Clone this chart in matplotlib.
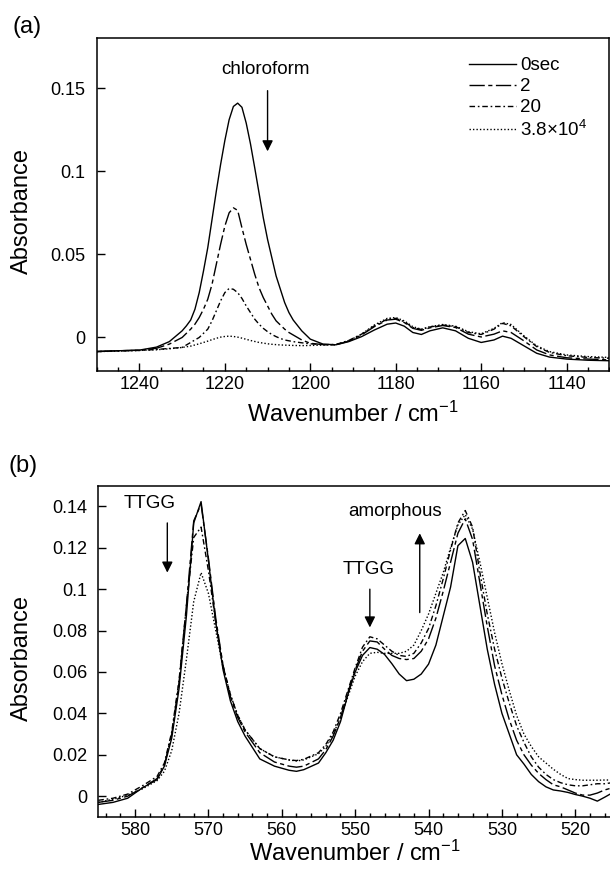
import numpy as np
import matplotlib
matplotlib.use('Agg')
import matplotlib.pyplot as plt

plt.rcParams['font.family'] = ['Liberation Sans', 'DejaVu Sans']
plt.rcParams['mathtext.fontset'] = 'custom'
plt.rcParams['mathtext.rm'] = 'Liberation Sans'
plt.rcParams['mathtext.it'] = 'Liberation Sans:italic'

# (a) chloroform band region
wn_a = [1250, 1245, 1240, 1236, 1233, 1230, 1229, 1228, 1227, 1226, 1225, 1224, 1223,
        1222, 1221, 1220, 1219, 1218, 1217, 1216, 1215, 1214, 1213, 1212, 1211, 1210,
        1209, 1208, 1207, 1206, 1205, 1204, 1202, 1200, 1197, 1194, 1191, 1188,
        1185, 1182, 1180, 1178, 1176, 1174, 1172, 1169, 1166, 1163, 1160, 1157, 1155,
        1153, 1150, 1147, 1144, 1140, 1135, 1130]
a_0s = [-0.0084, -0.008, -0.0076, -0.0058, -0.0025, 0.004, 0.007, 0.0105, 0.017, 0.027,
        0.040, 0.054, 0.071, 0.088, 0.104, 0.1185, 0.131, 0.139, 0.141, 0.1385, 0.129,
        0.1165, 0.102, 0.087, 0.072, 0.059, 0.048, 0.037, 0.029, 0.021, 0.015, 0.0105,
        0.004, -0.001, -0.004, -0.0044, -0.0025, 0.0005, 0.0045, 0.008, 0.0087, 0.0068,
        0.003, 0.0018, 0.004, 0.0058, 0.004, -0.0005, -0.003, -0.0015, 0.0008, -0.0005,
        -0.005, -0.0095, -0.0118, -0.013, -0.0137, -0.014]
a_2s = [-0.0085, -0.008, -0.0077, -0.0065, -0.004, 0.0, 0.0025, 0.005, 0.008, 0.012,
        0.017, 0.023, 0.032, 0.044, 0.056, 0.067, 0.075, 0.078, 0.0765, 0.066, 0.056,
        0.047, 0.038, 0.030, 0.024, 0.019, 0.014, 0.010, 0.0075, 0.005, 0.003, 0.0015,
        -0.0015, -0.0035, -0.0043, -0.0044, -0.0022, 0.0015, 0.0065, 0.0105, 0.011,
        0.009, 0.0055, 0.0043, 0.0058, 0.0072, 0.006, 0.002, 0.0003, 0.002, 0.004, 0.003,
        -0.002, -0.0075, -0.0105, -0.0122, -0.013, -0.0135]
a_20s = [-0.0085, -0.008, -0.0078, -0.0072, -0.0066, -0.006, -0.0045, -0.003, -0.0015,
         0.0, 0.0025, 0.005, 0.010, 0.016, 0.022, 0.027, 0.0295, 0.029, 0.027, 0.0235,
         0.019, 0.015, 0.011, 0.008, 0.0055, 0.0035, 0.0018, 0.0005, -0.0006, -0.0015,
         -0.002, -0.0025, -0.0032, -0.0038, -0.0043, -0.0042, -0.0018, 0.002, 0.007,
         0.011, 0.0115, 0.0095, 0.006, 0.0048, 0.0063, 0.0075, 0.0065, 0.003, 0.0018,
         0.005, 0.0085, 0.007, 0.0005, -0.0055, -0.009, -0.011, -0.012, -0.0125]
a_38k = [-0.0085, -0.0082, -0.0078, -0.0074, -0.0068, -0.006, -0.0056, -0.0052, -0.0045,
         -0.0038, -0.003, -0.0022, -0.0013, -0.0005, 0.0002, 0.0006, 0.0008, 0.0006,
         0.0002, -0.0004, -0.0011, -0.0018, -0.0024, -0.003, -0.0034, -0.0038, -0.0041,
         -0.0043, -0.0045, -0.0046, -0.0047, -0.0048, -0.0049, -0.0048, -0.0046, -0.0043,
         -0.002, 0.002, 0.0075, 0.0115, 0.012, 0.01, 0.0065, 0.005, 0.0065, 0.0078,
         0.0068, 0.0035, 0.0022, 0.0055, 0.009, 0.0078, 0.001, -0.005, -0.0085, -0.0105,
         -0.0115, -0.012]

# (b) low wavenumber region
wn_b = [585, 583, 581, 579, 577, 576, 575, 574, 573, 572, 571, 570, 569, 568, 567, 566,
        565, 563, 561, 559, 558, 557, 555, 554, 553, 552, 551, 550, 549, 548, 547, 546,
        545, 544, 543, 542, 541, 540, 539, 538, 537, 536, 535, 534, 533, 532, 531, 530,
        529, 528, 527, 526, 525, 524, 523, 522, 521, 520, 519, 518, 517, 516, 515]
b_0s = [-0.004, -0.003, -0.001, 0.004, 0.008, 0.0145, 0.028, 0.052, 0.087, 0.132, 0.1423,
        0.114, 0.084, 0.061, 0.046, 0.036, 0.029, 0.018, 0.0145, 0.0125, 0.012, 0.0128,
        0.016, 0.021, 0.027, 0.036, 0.049, 0.060, 0.068, 0.0718, 0.071, 0.0685, 0.064,
        0.059, 0.0558, 0.0565, 0.059, 0.0638, 0.073, 0.087, 0.101, 0.121, 0.1245, 0.113,
        0.092, 0.071, 0.054, 0.040, 0.030, 0.020, 0.0155, 0.0105, 0.007, 0.0045, 0.003,
        0.0025, 0.0018, 0.0008, 0.0, -0.001, -0.0024, -0.0005, 0.0015]
b_2s = [-0.003, -0.002, 0.0, 0.004, 0.0085, 0.015, 0.030, 0.055, 0.092, 0.133, 0.141,
        0.115, 0.086, 0.063, 0.048, 0.038, 0.031, 0.021, 0.0165, 0.0145, 0.014, 0.0145,
        0.018, 0.0225, 0.029, 0.038, 0.050, 0.061, 0.070, 0.075, 0.0745, 0.071, 0.068,
        0.0665, 0.066, 0.0665, 0.070, 0.076, 0.086, 0.099, 0.113, 0.127, 0.134, 0.124,
        0.103, 0.082, 0.063, 0.049, 0.037, 0.027, 0.020, 0.015, 0.011, 0.008, 0.0055,
        0.0045, 0.003, 0.0015, 0.0005, 0.0005, 0.0015, 0.003, 0.004]
b_20s = [-0.002, -0.001, 0.001, 0.005, 0.0095, 0.016, 0.031, 0.056, 0.092, 0.125, 0.130,
         0.109, 0.084, 0.063, 0.049, 0.039, 0.032, 0.023, 0.019, 0.0175, 0.0172, 0.0178,
         0.021, 0.025, 0.031, 0.040, 0.051, 0.062, 0.072, 0.077, 0.076, 0.073, 0.070,
         0.068, 0.0675, 0.069, 0.074, 0.081, 0.092, 0.105, 0.119, 0.132, 0.138, 0.130,
         0.108, 0.088, 0.071, 0.057, 0.045, 0.034, 0.026, 0.019, 0.014, 0.0105, 0.008,
         0.0065, 0.0055, 0.005, 0.005, 0.0055, 0.006, 0.006, 0.0065]
b_38k = [-0.003, -0.0015, 0.0005, 0.0035, 0.0075, 0.012, 0.022, 0.040, 0.066, 0.094, 0.108,
         0.098, 0.080, 0.062, 0.049, 0.039, 0.032, 0.023, 0.019, 0.0175, 0.017, 0.0175,
         0.0205, 0.024, 0.030, 0.038, 0.048, 0.058, 0.065, 0.069, 0.0695, 0.069, 0.069,
         0.069, 0.070, 0.073, 0.080, 0.088, 0.098, 0.108, 0.120, 0.131, 0.136, 0.129,
         0.113, 0.096, 0.079, 0.064, 0.051, 0.039, 0.030, 0.024, 0.019, 0.016, 0.013,
         0.0105, 0.0085, 0.008, 0.0077, 0.0077, 0.0077, 0.0078, 0.0078]

labels = ['0sec', '2', '20', r'3.8$\times$10$^4$']
styles = ['-', (0, (11, 2.5, 3, 2.5)), (0, (4, 2, 1.2, 2)), (0, (1, 1.5))]

fig = plt.figure(figsize=(6.10, 8.69), dpi=100)
ax1 = fig.add_axes([0.1585, 0.5734, 0.8404, 0.3825])
ax2 = fig.add_axes([0.1612, 0.0600, 0.8421, 0.3811])

for s, lab, ls in zip([a_0s, a_2s, a_20s, a_38k], labels, styles):
    ax1.plot(wn_a, s, color='k', lw=1.0, ls=ls, label=lab)
for s, lab, ls in zip([b_0s, b_2s, b_20s, b_38k], labels, styles):
    ax2.plot(wn_b, s, color='k', lw=1.0, ls=ls, label=lab)

ax1.set_xlim(1250, 1130)
ax1.set_ylim(-0.02, 0.18)
ax1.set_xticks([1240, 1220, 1200, 1180, 1160, 1140])
ax1.set_xticks(np.arange(1130, 1251, 5), minor=True)
ax1.set_yticks([0, 0.05, 0.1, 0.15])
ax1.set_yticklabels(['0', '0.05', '0.1', '0.15'])

ax2.set_xlim(585, 515)
ax2.set_ylim(-0.01, 0.15)
ax2.set_xticks([580, 570, 560, 550, 540, 530, 520])
ax2.set_xticks(np.arange(516, 586, 2), minor=True)
ax2.set_yticks([0, 0.02, 0.04, 0.06, 0.08, 0.1, 0.12, 0.14])
ax2.set_yticklabels(['0', '0.02', '0.04', '0.06', '0.08', '0.1', '0.12', '0.14'])

for ax in (ax1, ax2):
    ax.tick_params(axis='both', which='major', direction='in', length=6, width=1,
                   labelsize=13)
    ax.tick_params(axis='x', which='major', pad=4)
    ax.tick_params(axis='y', which='major', pad=8)
    ax.tick_params(axis='x', which='minor', direction='in', length=3, width=1)
    ax.tick_params(axis='y', which='minor', left=False)
    for sp in ax.spines.values():
        sp.set_linewidth(1.1)
    ax.set_ylabel('Absorbance', fontsize=17)

ax1.set_xlabel(r'Wavenumber / cm$^{-1}$', fontsize=17, labelpad=6)
ax2.set_xlabel(r'Wavenumber / cm$^{-1}$', fontsize=17, labelpad=1)

ax1.yaxis.set_label_coords(-0.125, 0.48)
ax2.yaxis.set_label_coords(-0.128, 0.48)

ax1.legend(loc='upper left', bbox_to_anchor=(0.727, 0.943), frameon=False,
           fontsize=13.5, handlelength=2.5, handletextpad=0.2, labelspacing=0.2,
           borderpad=0, borderaxespad=0)

arrow = dict(arrowstyle='-|>', color='k', lw=1.0, mutation_scale=16, shrinkA=0, shrinkB=0)
ax1.text(1210.5, 0.161, 'chloroform', fontsize=13.5, ha='center', va='center')
ax1.annotate('', xy=(1210, 0.112), xytext=(1210, 0.1485), arrowprops=arrow)

ax2.text(578, 0.1415, 'TTGG', fontsize=13.5, ha='center', va='center')
ax2.annotate('', xy=(575.6, 0.108), xytext=(575.6, 0.132), arrowprops=arrow)
ax2.text(548.2, 0.1095, 'TTGG', fontsize=13.5, ha='center', va='center')
ax2.annotate('', xy=(548, 0.0815), xytext=(548, 0.1), arrowprops=arrow)
ax2.text(544.5, 0.1375, 'amorphous', fontsize=13.5, ha='center', va='center')
ax2.annotate('', xy=(541.2, 0.127), xytext=(541.2, 0.0887), arrowprops=arrow)

fig.text(0.045, 1 - 26.5 / 869, '(a)', fontsize=17, ha='center', va='center')
fig.text(0.038, 1 - 466 / 869, '(b)', fontsize=17, ha='center', va='center')

fig.savefig('out.png', dpi=100)
